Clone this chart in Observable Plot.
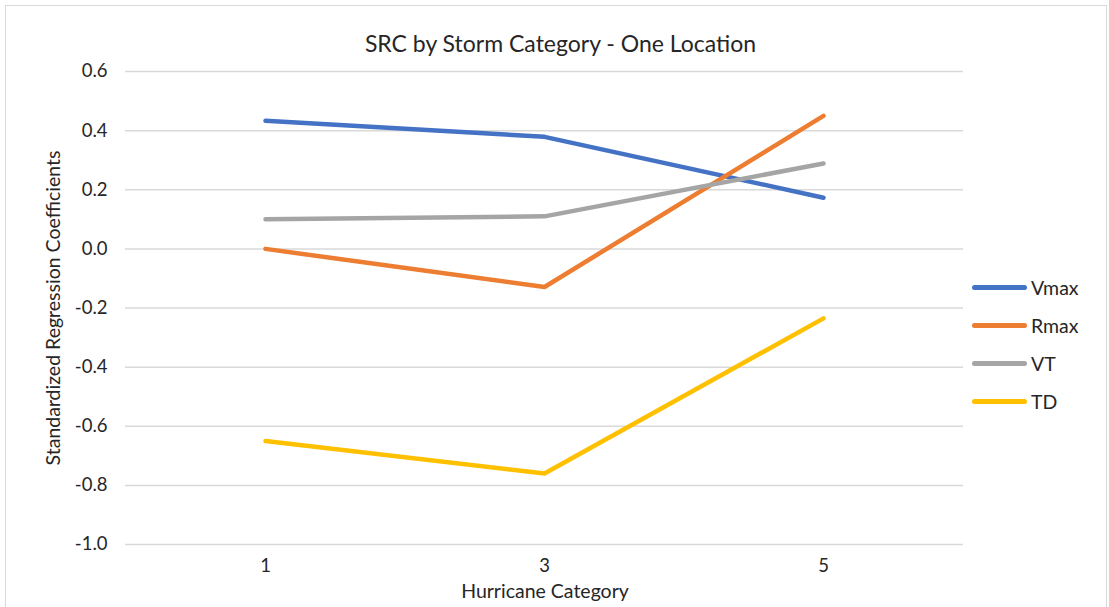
<!DOCTYPE html>
<html><head><meta charset="utf-8">
<script src="https://cdn.jsdelivr.net/npm/d3@7"></script>
<script src="https://cdn.jsdelivr.net/npm/@observablehq/plot@0.6"></script>
<style>
body{margin:0;background:#fff;font-family:Lato,"Open Sans",sans-serif;}
#wrap{position:relative;width:1109px;height:607px;overflow:hidden;}
#border{position:absolute;left:5px;top:5px;width:1102px;height:604px;border:1.5px solid #d9d9d9;box-sizing:border-box;}
#chart{position:absolute;left:0;top:0;}
.t{position:absolute;color:#262626;white-space:nowrap;}
#title{left:0;width:1121px;text-align:center;top:29px;font-size:23px;}
#xlab{left:0;width:1090px;text-align:center;top:579px;font-size:19.5px;}
#ylab{left:52px;top:308px;font-size:19.5px;transform:translate(-50%,-50%) rotate(-90deg);}
.leg{position:absolute;left:972px;display:flex;align-items:center;font-size:19.5px;color:#262626;}
.leg span.sw{display:inline-block;width:55px;height:4.5px;border-radius:3px;margin-right:4px;}
</style></head>
<body>
<div id="wrap"><div id="border"></div><div id="chart"></div>
<div class="t" id="title"></div><div class="t" id="xlab"></div><div class="t" id="ylab"></div>
<div id="legend"></div></div>
<script>
const categories = ["1", "3", "5"];
const seriesNames = ["Vmax", "Rmax", "VT", "TD"];
const colors = ["#4472C4", "#ED7D31", "#A5A5A5", "#FFC000"];
const vmax = [0.433, 0.379, 0.173];
const rmax = [0.0, -0.129, 0.45];
const vt = [0.10, 0.11, 0.289];
const td = [-0.65, -0.76, -0.235];
const yTicks = [-1.0, -0.8, -0.6, -0.4, -0.2, 0.0, 0.2, 0.4, 0.6];
const titleText = "SRC by Storm Category - One Location";
const xLabel = "Hurricane Category";
const yLabel = "Standardized Regression Coefficients";

const seriesValues = [vmax, rmax, vt, td];
const data = [];
seriesNames.forEach((s, i) => categories.forEach((c, j) => data.push({series: s, cat: c, value: seriesValues[i][j]})));

const chart = Plot.plot({
  width: 1109, height: 607,
  marginLeft: 125, marginRight: 146, marginTop: 71, marginBottom: 63,
  style: {fontFamily: "Lato, 'Open Sans', sans-serif", fontSize: "18.5px", color: "#262626", background: "transparent"},
  x: {type: "point", domain: categories, padding: 0.5, label: null, tickSize: 0, tickPadding: 20},
  y: {domain: [-1, 0.6], ticks: yTicks, tickFormat: d => d.toFixed(1), label: null, tickSize: 0, tickPadding: 20},
  color: {domain: seriesNames, range: colors},
  marks: [
    Plot.gridY(yTicks, {stroke: "#d9d9d9", strokeOpacity: 1, strokeWidth: 1.5}),
    Plot.axisY({ticks: yTicks, tickFormat: d => d.toFixed(1), tickSize: 0, tickPadding: 18, label: null, fontSize: 18.5}),
    Plot.axisX({tickSize: 0, tickPadding: 14, label: null, fontSize: 18.5}),
    Plot.line(data, {x: "cat", y: "value", z: "series", stroke: "series", strokeWidth: 4.5, strokeLinecap: "round", strokeLinejoin: "round"})
  ]
});
document.getElementById("chart").appendChild(chart);
document.getElementById("title").textContent = titleText;
document.getElementById("xlab").textContent = xLabel;
document.getElementById("ylab").textContent = yLabel;
const legendTops = [289, 327, 365, 403];
const lg = document.getElementById("legend");
seriesNames.forEach((s, i) => {
  const d = document.createElement("div");
  d.className = "leg";
  d.style.top = (legendTops[i] - 13) + "px";
  d.innerHTML = `<span class="sw" style="background:${colors[i]}"></span><span>${s}</span>`;
  lg.appendChild(d);
});
</script>
</body></html>
